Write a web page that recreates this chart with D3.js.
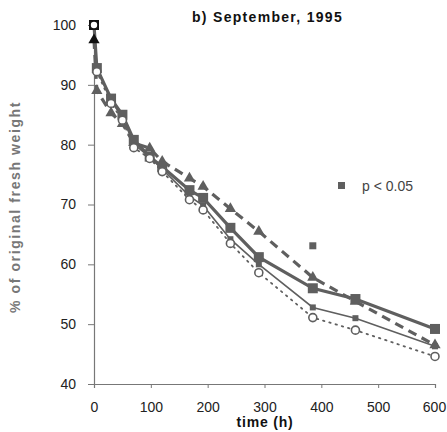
<!DOCTYPE html>
<html>
<head>
<meta charset="utf-8">
<script src="https://cdn.jsdelivr.net/npm/d3@7"></script>
<style>
  body { margin: 0; background: #fff; }
  svg text { font-family: "Liberation Sans", Arial, sans-serif; }
</style>
</head>
<body>
<script>
// data
const times = [0, 5, 30, 50, 70, 98, 120, 168, 192, 240, 290, 385, 460, 600];
const bigSquares = [100, 92.8, 87.7, 85.0, 80.8, 78.0, 76.3, 72.4, 71.1, 66.1, 61.2, 56.0, 54.2, 49.2];
const triangles = [97.5, 89.0, 85.3, 83.5, 80.3, 79.4, 77.2, 74.4, 73.0, 69.3, 65.5, 57.8, 53.8, 46.5];
const smallSquares = [100, 93.0, 87.3, 84.6, 80.1, 77.9, 75.9, 71.4, 69.8, 64.2, 60.0, 52.8, 51.0, 46.3];
const circles = [100, 92.2, 86.9, 84.1, 79.5, 77.7, 75.5, 70.8, 69.1, 63.5, 58.6, 51.1, 49.0, 44.6];
const sigTimes = [385];
const sigValues = [63.1];
const xTicks = [0, 100, 200, 300, 400, 500, 600];
const yTicks = [40, 50, 60, 70, 80, 90, 100];

const width = 447, height = 432;
const grey = "#5f5f5f";

const svg = d3.select("body").append("svg")
  .attr("width", width)
  .attr("height", height);

const x = d3.scaleLinear().domain([0, 600]).range([94, 435]);
const y = d3.scaleLinear().domain([40, 100]).range([384, 25]);

// axes
const yAxis = svg.append("g")
  .attr("transform", `translate(${x(0)},0)`)
  .call(d3.axisLeft(y).tickValues(yTicks).tickSize(6).tickPadding(12));
const xAxis = svg.append("g")
  .attr("transform", `translate(0,${y(40)})`)
  .call(d3.axisBottom(x).tickValues(xTicks).tickSize(4).tickPadding(14));

[yAxis, xAxis].forEach(g => {
  g.select(".domain").attr("stroke", "#777").attr("stroke-width", 1.2);
  g.selectAll(".tick line").attr("stroke", "#777");
  g.selectAll(".tick text")
    .attr("fill", "#222")
    .style("font-size", "14px");
});
xAxis.selectAll(".tick text").filter(d => d === 600).attr("dx", -1);

const series = (vals) => times.map((t, i) => [t, vals[i]]);
const line = d3.line().x(d => x(d[0])).y(d => y(d[1]));

// lines
svg.append("path").datum(series(circles))
  .attr("d", line).attr("fill", "none")
  .attr("stroke", grey).attr("stroke-width", 1.8)
  .attr("stroke-dasharray", "1.5,5").attr("stroke-linecap", "round");
svg.append("path").datum(series(smallSquares))
  .attr("d", line).attr("fill", "none")
  .attr("stroke", grey).attr("stroke-width", 1.6);
svg.append("path").datum(series(triangles))
  .attr("d", line).attr("fill", "none")
  .attr("stroke", grey).attr("stroke-width", 3.2)
  .attr("stroke-dasharray", "9,6");
svg.append("path").datum(series(bigSquares))
  .attr("d", line).attr("fill", "none")
  .attr("stroke", grey).attr("stroke-width", 3.2);

const markColor = d => d[0] === 0 ? "#111" : grey;

// markers
svg.append("g").selectAll("rect").data(series(smallSquares)).join("rect")
  .attr("x", d => x(d[0]) - 3).attr("y", d => y(d[1]) - 3)
  .attr("width", 6).attr("height", 6).attr("fill", markColor);

svg.append("g").selectAll("path").data(series(triangles)).join("path")
  .attr("d", d3.symbol().type(d3.symbolTriangle).size(55))
  .attr("transform", d => `translate(${x(d[0])},${y(d[1])})`)
  .attr("fill", markColor);

svg.append("g").selectAll("rect").data(series(bigSquares)).join("rect")
  .attr("x", d => x(d[0]) - 5).attr("y", d => y(d[1]) - 5)
  .attr("width", 10).attr("height", 10).attr("fill", markColor);

svg.append("g").selectAll("circle").data(series(circles)).join("circle")
  .attr("cx", d => x(d[0])).attr("cy", d => y(d[1]))
  .attr("r", 4).attr("fill", "#fff")
  .attr("stroke", markColor).attr("stroke-width", 1.6);

// significance marks
svg.append("g").selectAll("rect").data(sigTimes.map((t, i) => [t, sigValues[i]])).join("rect")
  .attr("x", d => x(d[0]) - 3.5).attr("y", d => y(d[1]) - 3.5)
  .attr("width", 7).attr("height", 7).attr("fill", grey);

// legend
svg.append("rect").attr("x", 338).attr("y", 182).attr("width", 7).attr("height", 7).attr("fill", grey);
svg.append("text").attr("x", 362).attr("y", 191)
  .attr("fill", "#444").style("font-size", "14px").text("p < 0.05");

// titles
svg.append("text").attr("x", 192).attr("y", 22)
  .style("font-size", "14px").style("font-weight", "bold")
  .style("letter-spacing", "1.3px").attr("fill", "#111")
  .text("b) September, 1995");

svg.append("text").attr("x", 265).attr("y", 427).attr("text-anchor", "middle")
  .style("font-size", "14px").style("font-weight", "bold")
  .style("letter-spacing", "0.8px").attr("fill", "#111")
  .text("time (h)");

svg.append("text")
  .attr("transform", "translate(20,207) rotate(-90)")
  .attr("text-anchor", "middle")
  .style("font-size", "14px").style("font-weight", "bold")
  .style("letter-spacing", "1.6px").attr("fill", "#777")
  .text("% of original fresh weight");
</script>
</body>
</html>
